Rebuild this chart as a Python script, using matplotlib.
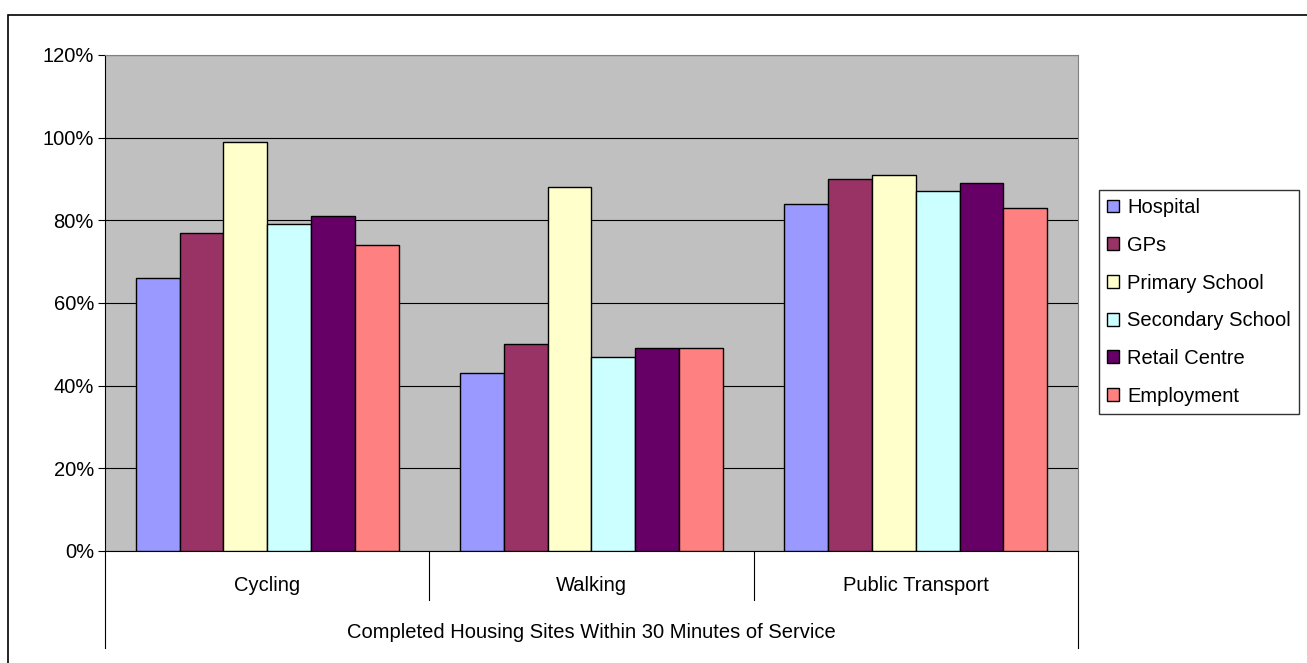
import matplotlib.pyplot as plt
from matplotlib.lines import Line2D
from matplotlib.patches import Rectangle
import numpy as np

plt.rcParams['font.family'] = ['Liberation Sans', 'DejaVu Sans']

modes = ['Cycling', 'Walking', 'Public Transport']
services = ['Hospital', 'GPs', 'Primary School', 'Secondary School', 'Retail Centre', 'Employment']
hospital = [66, 43, 84]
gps = [77, 50, 90]
primary = [99, 88, 91]
secondary = [79, 47, 87]
retail = [81, 49, 89]
employment = [74, 49, 83]
colors = ['#9999FF', '#993366', '#FFFFCC', '#CCFFFF', '#660066', '#FF8080']
axis_title = 'Completed Housing Sites Within 30 Minutes of Service'

W, H = 1307, 663
fig = plt.figure(figsize=(W / 100, H / 100), dpi=100)
fs = 14.5

# outer chart frame
fig.patches.append(Rectangle((8 / W, -0.01), 1.0, (H - 15) / H + 0.01, transform=fig.transFigure,
                             fill=False, edgecolor='black', linewidth=1.2))

left, right, top, bottom = 105, 1078, 55, 551
ax = fig.add_axes([left / W, (H - bottom) / H, (right - left) / W, (bottom - top) / H])
ax.set_facecolor('#C0C0C0')

series = [hospital, gps, primary, secondary, retail, employment]
x = np.arange(len(modes))
bw = 0.135
for i, (name, vals) in enumerate(zip(services, series)):
    ax.bar(x + (i - 2.5) * bw, vals, bw, color=colors[i], edgecolor='black', linewidth=1, label=name, zorder=3)

ax.set_xlim(-0.5, 2.5)
ax.set_ylim(0, 120)
ax.set_yticks(range(0, 121, 20))
ax.set_yticklabels([f'{v}%' for v in range(0, 121, 20)], fontsize=fs)
ax.yaxis.grid(True, color='black', linewidth=0.8, zorder=1)
ax.tick_params(axis='y', length=5, direction='out', pad=3)
ax.set_xticks([])
for s in ['top', 'right']:
    ax.spines[s].set_color('#808080')
ax.spines['left'].set_color('black')
ax.spines['bottom'].set_color('black')

# two-level category axis
for i, m in enumerate(modes):
    ax.text(i, -0.07, m, transform=ax.get_xaxis_transform(), ha='center', va='center', fontsize=fs)
ax.text(1, -0.165, axis_title, transform=ax.get_xaxis_transform(), ha='center', va='center', fontsize=fs)
for xs in [-0.5, 0.5, 1.5, 2.5]:
    depth = -0.195 if xs in (-0.5, 2.5) else -0.098
    ax.add_line(Line2D([xs, xs], [0, depth], transform=ax.get_xaxis_transform(),
                       color='black', linewidth=0.8, clip_on=False))

leg = ax.legend(loc='upper left', bbox_to_anchor=(1099 / W, (H - 190) / H), bbox_transform=fig.transFigure,
                fontsize=fs, frameon=True, fancybox=False, edgecolor='black', borderpad=0.4,
                handlelength=0.6, handleheight=0.6, handletextpad=0.4, labelspacing=0.93, borderaxespad=0)
leg.get_frame().set_linewidth(1)

fig.savefig('out.png', dpi=100)
